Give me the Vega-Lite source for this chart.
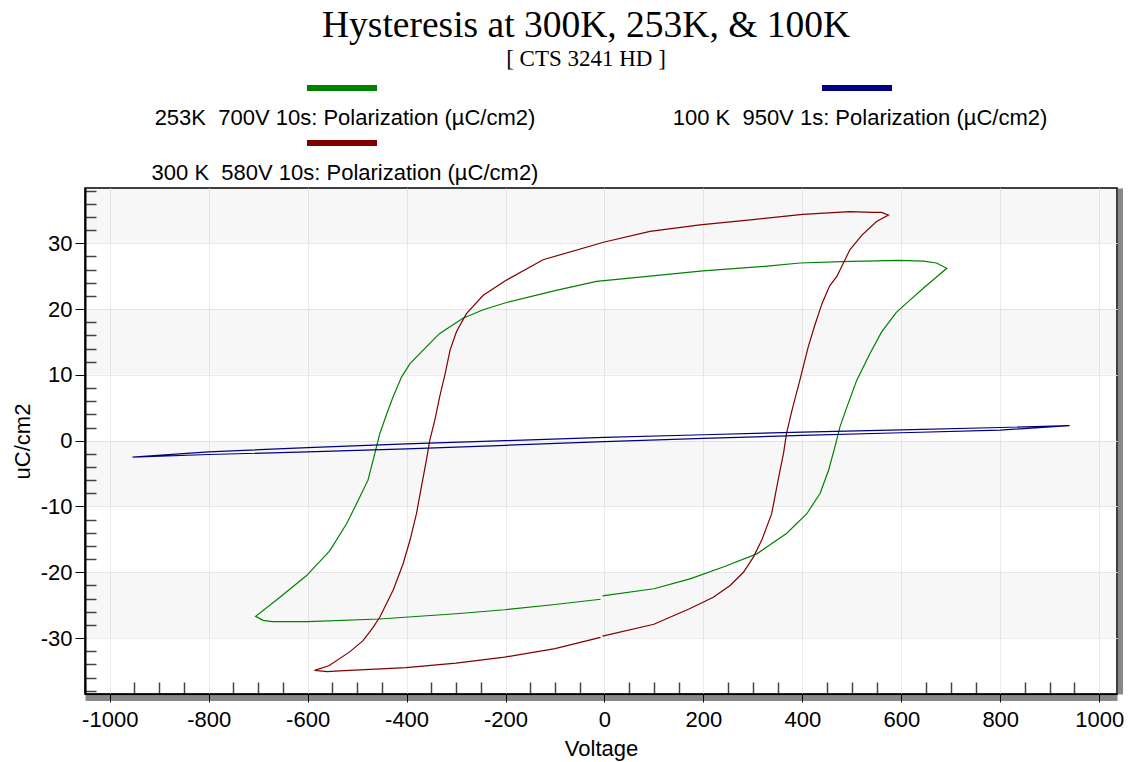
{
  "$schema": "https://vega.github.io/schema/vega-lite/v6.json",
  "width": 1032,
  "height": 506,
  "autosize": {"type": "none"},
  "padding": {"left": 85, "top": 188, "right": 11, "bottom": 68},
  "background": "white",
  "title": {
    "text": "Hysteresis at 300K, 253K, & 100K",
    "subtitle": "[ CTS 3241 HD ]",
    "font": "Liberation Serif",
    "fontSize": 37.5,
    "fontWeight": "normal",
    "color": "black",
    "subtitleFont": "Liberation Serif",
    "subtitleFontSize": 23,
    "subtitleColor": "black",
    "subtitlePadding": 4,
    "anchor": "middle",
    "frame": "group",
    "dx": -15,
    "offset": 6
  },
  "datasets": {
    "bands": [
      {"lo": 30, "hi": 38.4},
      {"lo": 10, "hi": 20},
      {"lo": -10, "hi": 0},
      {"lo": -30, "hi": -20}
    ],
    "loops": [
      {"s": "253K", "i": 0, "v": -4, "p": -23.6},
      {"s": "253K", "i": 1, "v": 100, "p": -22.5},
      {"s": "253K", "i": 2, "v": 173, "p": -21.0},
      {"s": "253K", "i": 3, "v": 240, "p": -19.2},
      {"s": "253K", "i": 4, "v": 308, "p": -17.2},
      {"s": "253K", "i": 5, "v": 368, "p": -14.1},
      {"s": "253K", "i": 6, "v": 409, "p": -11.1},
      {"s": "253K", "i": 7, "v": 436, "p": -8.0},
      {"s": "253K", "i": 8, "v": 453, "p": -4.5},
      {"s": "253K", "i": 9, "v": 466, "p": -0.9},
      {"s": "253K", "i": 10, "v": 476, "p": 2.1},
      {"s": "253K", "i": 11, "v": 490, "p": 5.1},
      {"s": "253K", "i": 12, "v": 510, "p": 9.2},
      {"s": "253K", "i": 13, "v": 537, "p": 13.3},
      {"s": "253K", "i": 14, "v": 560, "p": 16.5},
      {"s": "253K", "i": 15, "v": 590, "p": 19.5},
      {"s": "253K", "i": 16, "v": 618, "p": 21.4},
      {"s": "253K", "i": 17, "v": 645, "p": 23.2},
      {"s": "253K", "i": 18, "v": 670, "p": 24.8},
      {"s": "253K", "i": 19, "v": 692, "p": 26.2},
      {"s": "253K", "i": 20, "v": 671, "p": 27.0},
      {"s": "253K", "i": 21, "v": 645, "p": 27.3},
      {"s": "253K", "i": 22, "v": 594, "p": 27.4},
      {"s": "253K", "i": 23, "v": 479, "p": 27.2},
      {"s": "253K", "i": 24, "v": 395, "p": 27.0},
      {"s": "253K", "i": 25, "v": 324, "p": 26.5},
      {"s": "253K", "i": 26, "v": 199, "p": 25.8},
      {"s": "253K", "i": 27, "v": 92, "p": 25.0},
      {"s": "253K", "i": 28, "v": -16, "p": 24.2},
      {"s": "253K", "i": 29, "v": -100, "p": 22.8},
      {"s": "253K", "i": 30, "v": -198, "p": 21.0},
      {"s": "253K", "i": 31, "v": -245, "p": 19.9},
      {"s": "253K", "i": 32, "v": -286, "p": 18.6},
      {"s": "253K", "i": 33, "v": -333, "p": 16.3},
      {"s": "253K", "i": 34, "v": -366, "p": 13.8},
      {"s": "253K", "i": 35, "v": -393, "p": 11.7},
      {"s": "253K", "i": 36, "v": -410, "p": 9.7},
      {"s": "253K", "i": 37, "v": -427, "p": 6.7},
      {"s": "253K", "i": 38, "v": -440, "p": 4.1},
      {"s": "253K", "i": 39, "v": -454, "p": 1.1},
      {"s": "253K", "i": 40, "v": -464, "p": -1.9},
      {"s": "253K", "i": 41, "v": -478, "p": -6.0},
      {"s": "253K", "i": 42, "v": -498, "p": -9.1},
      {"s": "253K", "i": 43, "v": -521, "p": -12.6},
      {"s": "253K", "i": 44, "v": -555, "p": -16.7},
      {"s": "253K", "i": 45, "v": -602, "p": -20.5},
      {"s": "253K", "i": 46, "v": -656, "p": -23.8},
      {"s": "253K", "i": 47, "v": -705, "p": -26.7},
      {"s": "253K", "i": 48, "v": -690, "p": -27.3},
      {"s": "253K", "i": 49, "v": -672, "p": -27.5},
      {"s": "253K", "i": 50, "v": -600, "p": -27.5},
      {"s": "253K", "i": 51, "v": -455, "p": -27.1},
      {"s": "253K", "i": 52, "v": -300, "p": -26.3},
      {"s": "253K", "i": 53, "v": -202, "p": -25.7},
      {"s": "253K", "i": 54, "v": -100, "p": -24.9},
      {"s": "253K", "i": 55, "v": -8, "p": -24.1},

      {"s": "300K", "i": 0, "v": -4, "p": -29.7},
      {"s": "300K", "i": 1, "v": 100, "p": -27.9},
      {"s": "300K", "i": 2, "v": 173, "p": -25.5},
      {"s": "300K", "i": 3, "v": 220, "p": -23.8},
      {"s": "300K", "i": 4, "v": 254, "p": -22.0},
      {"s": "300K", "i": 5, "v": 281, "p": -20.0},
      {"s": "300K", "i": 6, "v": 301, "p": -17.7},
      {"s": "300K", "i": 7, "v": 318, "p": -15.1},
      {"s": "300K", "i": 8, "v": 338, "p": -11.1},
      {"s": "300K", "i": 9, "v": 351, "p": -6.0},
      {"s": "300K", "i": 10, "v": 362, "p": -1.9},
      {"s": "300K", "i": 11, "v": 368, "p": 1.1},
      {"s": "300K", "i": 12, "v": 379, "p": 4.6},
      {"s": "300K", "i": 13, "v": 395, "p": 9.2},
      {"s": "300K", "i": 14, "v": 412, "p": 14.3},
      {"s": "300K", "i": 15, "v": 425, "p": 17.5},
      {"s": "300K", "i": 16, "v": 440, "p": 20.9},
      {"s": "300K", "i": 17, "v": 455, "p": 23.5},
      {"s": "300K", "i": 18, "v": 470, "p": 25.0},
      {"s": "300K", "i": 19, "v": 483, "p": 27.0},
      {"s": "300K", "i": 20, "v": 496, "p": 29.0},
      {"s": "300K", "i": 21, "v": 520, "p": 31.2},
      {"s": "300K", "i": 22, "v": 550, "p": 33.3},
      {"s": "300K", "i": 23, "v": 574, "p": 34.3},
      {"s": "300K", "i": 24, "v": 560, "p": 34.7},
      {"s": "300K", "i": 25, "v": 544, "p": 34.7},
      {"s": "300K", "i": 26, "v": 496, "p": 34.8},
      {"s": "300K", "i": 27, "v": 401, "p": 34.4},
      {"s": "300K", "i": 28, "v": 300, "p": 33.6},
      {"s": "300K", "i": 29, "v": 193, "p": 32.8},
      {"s": "300K", "i": 30, "v": 92, "p": 31.8},
      {"s": "300K", "i": 31, "v": 0, "p": 30.2},
      {"s": "300K", "i": 32, "v": -124, "p": 27.5},
      {"s": "300K", "i": 33, "v": -198, "p": 24.4},
      {"s": "300K", "i": 34, "v": -245, "p": 22.1},
      {"s": "300K", "i": 35, "v": -279, "p": 19.3},
      {"s": "300K", "i": 36, "v": -299, "p": 16.6},
      {"s": "300K", "i": 37, "v": -312, "p": 13.8},
      {"s": "300K", "i": 38, "v": -322, "p": 10.2},
      {"s": "300K", "i": 39, "v": -333, "p": 6.7},
      {"s": "300K", "i": 40, "v": -343, "p": 3.1},
      {"s": "300K", "i": 41, "v": -353, "p": 0.1},
      {"s": "300K", "i": 42, "v": -360, "p": -3.0},
      {"s": "300K", "i": 43, "v": -370, "p": -7.0},
      {"s": "300K", "i": 44, "v": -380, "p": -11.1},
      {"s": "300K", "i": 45, "v": -393, "p": -15.1},
      {"s": "300K", "i": 46, "v": -407, "p": -18.7},
      {"s": "300K", "i": 47, "v": -427, "p": -22.7},
      {"s": "300K", "i": 48, "v": -454, "p": -26.8},
      {"s": "300K", "i": 49, "v": -468, "p": -28.4},
      {"s": "300K", "i": 50, "v": -488, "p": -30.4},
      {"s": "300K", "i": 51, "v": -515, "p": -32.1},
      {"s": "300K", "i": 52, "v": -557, "p": -34.2},
      {"s": "300K", "i": 53, "v": -586, "p": -34.9},
      {"s": "300K", "i": 54, "v": -560, "p": -35.1},
      {"s": "300K", "i": 55, "v": -536, "p": -35.0},
      {"s": "300K", "i": 56, "v": -401, "p": -34.5},
      {"s": "300K", "i": 57, "v": -300, "p": -33.8},
      {"s": "300K", "i": 58, "v": -202, "p": -32.9},
      {"s": "300K", "i": 59, "v": -100, "p": -31.6},
      {"s": "300K", "i": 60, "v": -8, "p": -29.9},

      {"s": "100K", "i": 0, "v": 0, "p": -0.15},
      {"s": "100K", "i": 1, "v": 200, "p": 0.35},
      {"s": "100K", "i": 2, "v": 400, "p": 0.8},
      {"s": "100K", "i": 3, "v": 600, "p": 1.2},
      {"s": "100K", "i": 4, "v": 800, "p": 1.6},
      {"s": "100K", "i": 5, "v": 940, "p": 2.3},
      {"s": "100K", "i": 6, "v": 800, "p": 2.0},
      {"s": "100K", "i": 7, "v": 600, "p": 1.65},
      {"s": "100K", "i": 8, "v": 400, "p": 1.3},
      {"s": "100K", "i": 9, "v": 200, "p": 0.9},
      {"s": "100K", "i": 10, "v": 0, "p": 0.5},
      {"s": "100K", "i": 11, "v": -200, "p": 0.0},
      {"s": "100K", "i": 12, "v": -400, "p": -0.5},
      {"s": "100K", "i": 13, "v": -600, "p": -1.05},
      {"s": "100K", "i": 14, "v": -800, "p": -1.7},
      {"s": "100K", "i": 15, "v": -954, "p": -2.5},
      {"s": "100K", "i": 16, "v": -800, "p": -2.1},
      {"s": "100K", "i": 17, "v": -600, "p": -1.7},
      {"s": "100K", "i": 18, "v": -400, "p": -1.25},
      {"s": "100K", "i": 19, "v": -200, "p": -0.7},
      {"s": "100K", "i": 20, "v": 0, "p": -0.15}
    ]
  },
  "layer": [
    {
      "data": {"name": "bands"},
      "mark": {"type": "rect", "fill": "#000000", "opacity": 0.03},
      "encoding": {
        "y": {
          "field": "lo", "type": "quantitative",
          "scale": {"domain": [-38.5, 38.4], "nice": false, "zero": false},
          "axis": {"orient": "right", "offset": 3, "domainColor": "#888888", "domainWidth": 5, "ticks": false, "labels": false, "grid": false, "title": null}
        },
        "y2": {"field": "hi"}
      }
    },
    {
      "data": {"name": "loops"},
      "mark": {"type": "line", "opacity": 0},
      "encoding": {
        "x": {
          "field": "v", "type": "quantitative",
          "scale": {"domain": [-1050, 1036], "nice": false, "zero": false},
          "axis": {"orient": "bottom", "offset": 4, "domainColor": "#888888", "domainWidth": 5, "ticks": false, "labels": false, "grid": false, "title": null}
        },
        "y": {
          "field": "p", "type": "quantitative",
          "axis": {"orient": "left", "values": [-38, -36, -34, -32, -28, -26, -24, -22, -18, -16, -14, -12, -8, -6, -4, -2, 2, 4, 6, 8, 12, 14, 16, 18, 22, 24, 26, 28, 32, 34, 36, 38], "tickSize": -11, "tickColor": "#444444", "tickWidth": 1.5, "labels": false, "domain": false, "grid": false, "title": null}
        },
        "detail": {"field": "s"},
        "order": {"field": "i"}
      }
    },
    {
      "data": {"name": "loops"},
      "mark": {"type": "line", "opacity": 0},
      "encoding": {
        "x": {
          "field": "v", "type": "quantitative",
          "axis": {"orient": "bottom", "values": [-1050, -950, -900, -850, -750, -700, -650, -550, -500, -450, -350, -300, -250, -150, -100, -50, 50, 100, 150, 250, 300, 350, 450, 500, 550, 650, 700, 750, 850, 900, 950], "tickSize": -12, "tickColor": "#444444", "tickWidth": 1.5, "labels": false, "domain": false, "grid": false, "title": null}
        },
        "y": {"field": "p", "type": "quantitative", "axis": null},
        "detail": {"field": "s"},
        "order": {"field": "i"}
      }
    },
    {
      "data": {"name": "loops"},
      "mark": {"type": "line", "strokeWidth": 1.2},
      "encoding": {
        "x": {
          "field": "v", "type": "quantitative",
          "axis": {"orient": "bottom", "values": [-1000, -800, -600, -400, -200, 0, 200, 400, 600, 800, 1000], "labelExpr": "'' + datum.value", "tickSize": 8, "tickColor": "black", "domainColor": "black", "domainWidth": 2, "grid": true, "gridColor": "#ebebeb", "labelFontSize": 22, "labelColor": "black", "labelPadding": 7, "labelFlush": false, "labelOverlap": false, "title": "Voltage", "titleFontSize": 22, "titleFontWeight": "normal", "titleColor": "black", "titlePadding": 8}
        },
        "y": {
          "field": "p", "type": "quantitative",
          "axis": {"orient": "left", "values": [-30, -20, -10, 0, 10, 20, 30], "labelExpr": "'' + datum.value", "tickSize": 10, "tickColor": "black", "domainColor": "black", "domainWidth": 2, "grid": true, "gridColor": "#ebebeb", "labelFontSize": 22, "labelColor": "black", "labelPadding": 3, "title": "uC/cm2", "titleFontSize": 22, "titleFontWeight": "normal", "titleColor": "black", "titlePadding": 6}
        },
        "color": {
          "field": "s", "type": "nominal",
          "scale": {"domain": ["253K", "300K", "100K"], "range": ["#008000", "#800000", "#000080"]},
          "legend": {
            "orient": "none",
            "legendX": 246,
            "legendY": -111,
            "columns": 2,
            "title": null,
            "symbolType": "M-7,0H7",
            "symbolSize": 100,
            "symbolStrokeWidth": 6,
            "labelAlign": "center",
            "labelOffset": -8,
            "labelFontSize": 22,
            "labelColor": "black",
            "labelLimit": 0,
            "columnPadding": 133,
            "rowPadding": 2,
            "labelExpr": "datum.label == '253K' ? '253K\u00a0 700V 10s: Polarization (µC/cm2)' : datum.label == '100K' ? '100 K\u00a0 950V 1s: Polarization (µC/cm2)' : '300 K\u00a0 580V 10s: Polarization (µC/cm2)'",
            "encode": {"labels": {"update": {"dy": {"value": 30}}}}
          }
        },
        "order": {"field": "i"}
      }
    }
  ],
  "resolve": {"axis": {"x": "independent", "y": "independent"}},
  "config": {
    "font": "Liberation Sans",
    "view": {"stroke": "black", "strokeWidth": 1.5}
  }
}
